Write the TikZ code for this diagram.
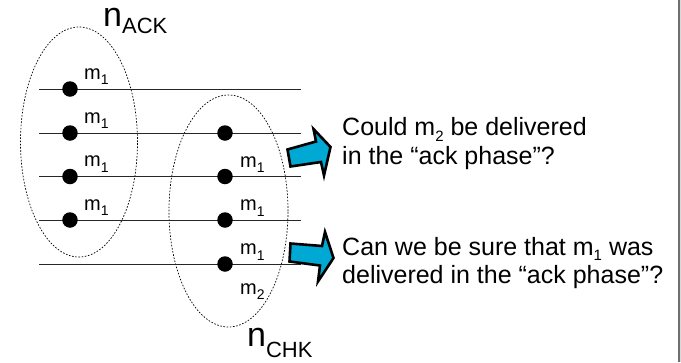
\documentclass[tikz,border=0pt]{standalone}
\usepackage{fontspec}
\setmainfont{Liberation Sans}
\usetikzlibrary{shapes.geometric}
\definecolor{arrowblue}{RGB}{0,168,212}
\definecolor{framegray}{RGB}{112,112,112}
% lowered, smaller index: text, drop (pt), size (pt)
\newcommand{\lowsub}[3]{\raisebox{-#2pt}{\fontsize{#3pt}{#3pt}\selectfont #1}}

\begin{document}
\begin{tikzpicture}[x=1pt,y=1pt,
  timeline/.style={draw=black!85, line width=0.9pt},
  event/.style={circle, fill=black, inner sep=0pt, minimum size=15.5pt},
  msg/.style={anchor=base west, inner sep=0pt, font=\fontsize{20pt}{20pt}\selectfont},
  group/.style={draw, ellipse, dash pattern=on 1.6pt off 1.6pt, line width=0.7pt, inner sep=0pt},
  grouplabel/.style={anchor=base west, inner sep=0pt, text height=18pt, font=\fontsize{34pt}{34pt}\selectfont},
  question/.style={anchor=base west, inner sep=0pt, text height=18pt, text depth=6pt, font=\fontsize{25pt}{25pt}\selectfont},
  blockarrow/.style={draw=black, line width=2.6pt, line join=miter, fill=arrowblue}]

\useasboundingbox (0,0) rectangle (681,-362);
\fill[white] (0,0) rectangle (681,-362);
% frame edge on the right
\fill[framegray] (677.5,0) rectangle (680,-362);
\fill[black!15] (680,0) rectangle (681,-362);

% process groups
\node[group, minimum width=117pt, minimum height=230pt] (ackset) at (79,-142) {};
\node[group, minimum width=119pt, minimum height=232pt] (chkset) at (228.5,-211) {};

% process timelines
\foreach \i/\y in {1/89,2/133,3/176.5,4/220,5/264}{
  \coordinate (s\i) at (39,-\y);
  \coordinate (e\i) at (301,-\y);
  \draw[timeline] (s\i) -- (e\i);
}

% events of the ack phase
\foreach \i/\y in {1/89,2/133,3/176.5,4/220}{
  \node[event] (a\i) at (70,-\y) {};
  \node[msg] (am\i) at (84,-\y+10) {m\lowsub{1}{5.5}{14}};
}

% events of the check phase
\foreach \i/\y in {2/133,3/176.5,4/220,5/264}{
  \node[event] (c\i) at (225,-\y) {};
}
\foreach \i/\y in {3/176.5,4/220,5/264}{
  \node[msg] (cm\i) at (240,-\y+9.5) {m\lowsub{1}{5.5}{14}};
}
\node[msg] (cm6) at (240,-294) {m\lowsub{2}{5.5}{14}};

% group names
\node[grouplabel] (nack) at (103,-26) {n\lowsub{ACK}{7.5}{22}};
\node[grouplabel] (nchk) at (247,-346) {n\lowsub{CHK}{11}{22}};

% block arrows
\draw[blockarrow] (287.5,-149.5) -- (316,-141.5) -- (313.5,-129) -- (330.5,-147)
  -- (324,-175.5) -- (321,-162) -- (290.5,-166.5) -- cycle;
\draw[blockarrow] (290.5,-243.5) -- (322,-246) -- (325,-232) -- (333.5,-258)
  -- (318,-281.5) -- (320,-265.5) -- (289.5,-261.5) -- cycle;

% questions
\node[question] (q1a) at (342,-135) {Could m\lowsub{2}{6.5}{15} be delivered};
\node[question] (q1b) at (342,-164) {in the “ack phase”?};
\node[question] (q2a) at (342,-255) {Can we be sure that m\lowsub{1}{5.5}{15} was};
\node[question] (q2b) at (342,-283) {delivered in the “ack phase”?};
\end{tikzpicture}
\end{document}
